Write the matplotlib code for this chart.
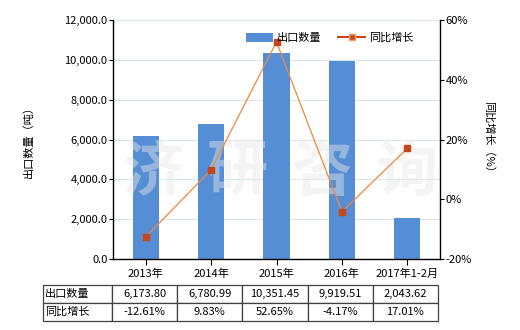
import matplotlib
matplotlib.use("Agg")
import matplotlib.pyplot as plt
from matplotlib.lines import Line2D
from matplotlib.patches import Patch

plt.rcParams['font.family'] = ['Noto Sans CJK SC', 'DejaVu Sans']

categories = ["2013年", "2014年", "2015年", "2016年", "2017年1-2月"]
export_qty = [6173.80, 6780.99, 10351.45, 9919.51, 2043.62]
yoy_growth = [-12.61, 9.83, 52.65, -4.17, 17.01]
qty_labels = ["6,173.80", "6,780.99", "10,351.45", "9,919.51", "2,043.62"]
yoy_labels = ["-12.61%", "9.83%", "52.65%", "-4.17%", "17.01%"]
left_ticks = [0, 2000, 4000, 6000, 8000, 10000, 12000]
right_ticks = [-20, 0, 20, 40, 60]
watermark = ["济", "研", "咨", "询"]

bar_color = "#558ed5"
line_color = "#f0883c"
marker_color = "#c5461a"

fig = plt.figure(figsize=(5.2, 3.3), dpi=100)
ax = fig.add_axes([113/520, 1-259/330, 327/520, 239/330])
x = list(range(len(categories)))
ax.bar(x, export_qty, width=0.4, color=bar_color, zorder=2)
ax.set_xlim(-0.5, len(categories)-0.5)
ax.set_ylim(0, 12000)
ax.set_yticks(left_ticks)
ax.set_yticklabels([f"{v:,.1f}" for v in left_ticks], fontsize=8)
ax.set_xticks(x)
ax.set_xticklabels(categories, fontsize=8)
ax.tick_params(axis='x', length=4, width=0.8, pad=3)
ax.tick_params(axis='y', length=3, width=0.8, pad=1)
ax.grid(axis='y', color="#dce8e8", linewidth=0.8, zorder=0)
ax.set_axisbelow(True)
for s in ['top', 'right']:
    ax.spines[s].set_visible(False)
ax.spines['left'].set_linewidth(1.0)
ax.spines['bottom'].set_linewidth(1.0)
ax.set_ylabel("出口数量（吨）", fontsize=8, labelpad=22)

# faint watermark
for i, ch in enumerate(watermark):
    ax.text(0.12 + i * 0.26, 0.36, ch, transform=ax.transAxes, fontsize=44,
            color="#e8e8e8", alpha=0.45, ha='center', va='center', zorder=2.5,
            fontweight='bold')

ax2 = ax.twinx()
ax2.plot(x, yoy_growth, color=line_color, linewidth=0.9, marker='s', markersize=5,
         markerfacecolor=marker_color, markeredgecolor=marker_color, zorder=3)
ax2.set_ylim(-20, 60)
ax2.set_yticks(right_ticks)
ax2.set_yticklabels([f"{v}%" for v in right_ticks], fontsize=8)
ax2.tick_params(axis='y', length=3, width=0.8, pad=1)
for s in ['top', 'left', 'bottom']:
    ax2.spines[s].set_visible(False)
ax2.spines['right'].set_linewidth(1.0)
ax2.set_ylabel("同比增长（%）", fontsize=8, rotation=-90, labelpad=16)

handles = [Patch(facecolor=bar_color, edgecolor='none'),
           Line2D([0], [0], color=marker_color, linewidth=1.5, marker='s', markersize=4,
                  markerfacecolor=marker_color, markeredgecolor='#f0a060')]
fig.legend(handles, ["出口数量", "同比增长"], loc='center', bbox_to_anchor=(330/520, 1-38/330),
           ncol=2, frameon=False, fontsize=8, handlelength=2.4, handleheight=0.9,
           columnspacing=1.5, handletextpad=0.4)

full = [["出口数量"] + qty_labels, ["同比增长"] + yoy_labels]
w0 = 69/395
wc = (1 - w0) / 5
tbl = ax.table(cellText=full, cellLoc='center', colWidths=[w0] + [wc]*5,
               bbox=[(43-113)/327, (259-321)/239, 395/327, 36/239])
tbl.auto_set_font_size(False)
for (r, c), cell in tbl.get_celld().items():
    cell.set_fontsize(8)
    cell.set_edgecolor("#404040")
    cell.set_linewidth(0.9)
    if c == 0:
        cell.set_text_props(ha='left')
        cell.PAD = 0.03

fig.savefig("out.png", dpi=100)
